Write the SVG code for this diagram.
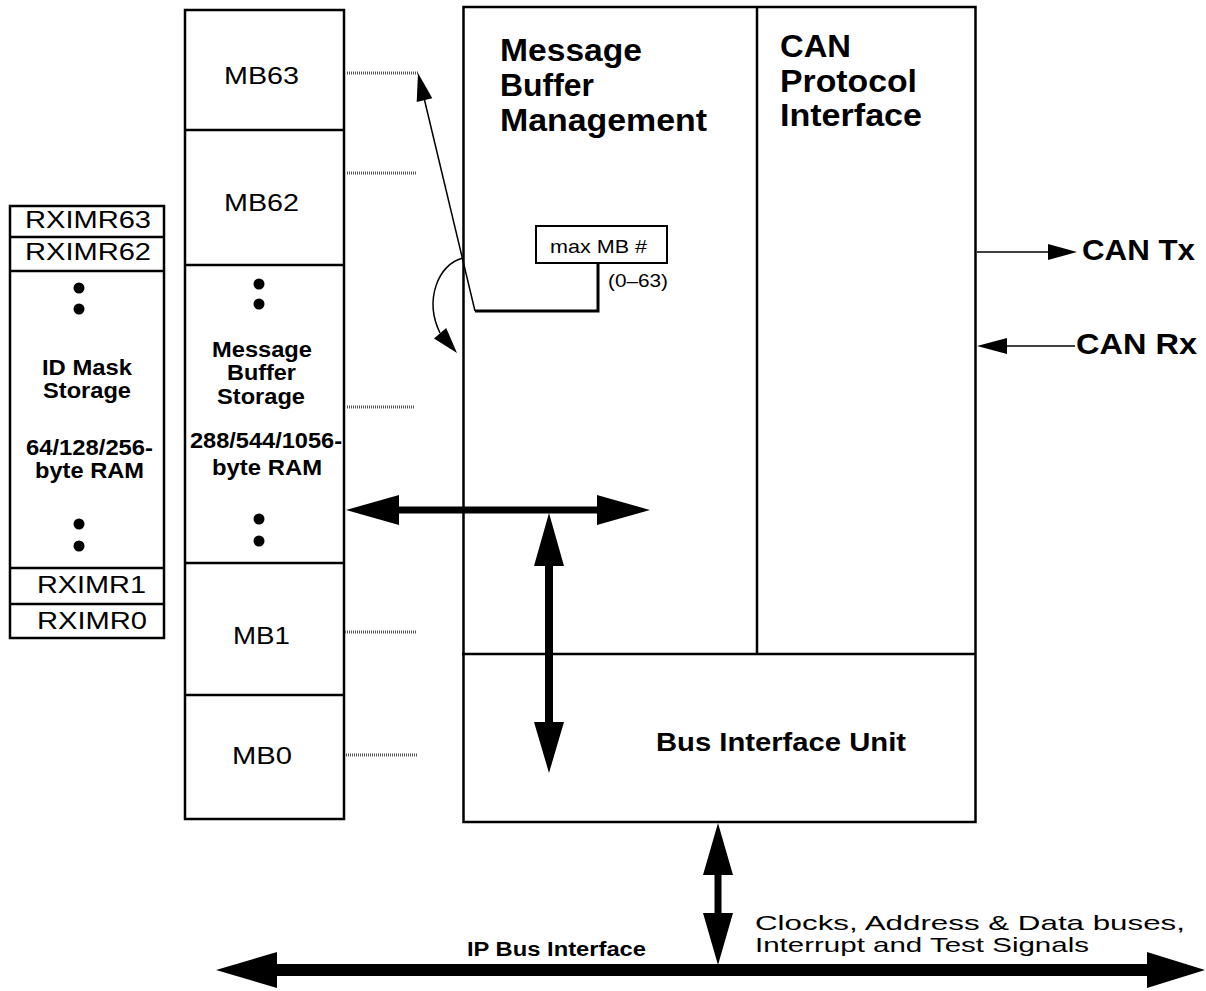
<svg xmlns="http://www.w3.org/2000/svg" width="1206" height="991" viewBox="0 0 1206 991">
<style>
.box{fill:#fff;stroke:#000;stroke-width:2.5}
.ln{stroke:#000;stroke-width:2.5;fill:none}
.thin{stroke:#000;stroke-width:1.5;fill:none}
.dot{stroke:#555;stroke-width:3;stroke-dasharray:1 1;fill:none}
.r{font-family:"Liberation Sans",Arial,sans-serif;fill:#000}
.b{font-family:"Liberation Sans",Arial,sans-serif;font-weight:bold;fill:#000}
.fill{fill:#000;stroke:none}
</style>
<rect width="1206" height="991" fill="#fff"/>

<g id="id-mask-storage">
<rect class="box" x="10" y="206" width="154" height="432"/>
<line class="ln" x1="10" y1="237" x2="164" y2="237"/>
<line class="ln" x1="10" y1="271" x2="164" y2="271"/>
<line class="ln" x1="10" y1="568" x2="164" y2="568"/>
<line class="ln" x1="10" y1="604" x2="164" y2="604"/>
<text class="r" x="25" y="228" font-size="23" textLength="126" lengthAdjust="spacingAndGlyphs">RXIMR63</text>
<text class="r" x="25" y="260" font-size="23" textLength="126" lengthAdjust="spacingAndGlyphs">RXIMR62</text>
<circle class="fill" cx="79" cy="288" r="5.5"/>
<circle class="fill" cx="79" cy="309" r="5.5"/>
<text class="b" x="42" y="375" font-size="22" textLength="90" lengthAdjust="spacingAndGlyphs">ID Mask</text>
<text class="b" x="43" y="398" font-size="22" textLength="88" lengthAdjust="spacingAndGlyphs">Storage</text>
<text class="b" x="26" y="455" font-size="22" textLength="127" lengthAdjust="spacingAndGlyphs">64/128/256-</text>
<text class="b" x="35" y="478" font-size="22" textLength="109" lengthAdjust="spacingAndGlyphs">byte RAM</text>
<circle class="fill" cx="79" cy="524" r="5.5"/>
<circle class="fill" cx="79" cy="546" r="5.5"/>
<text class="r" x="37" y="593" font-size="23" textLength="109" lengthAdjust="spacingAndGlyphs">RXIMR1</text>
<text class="r" x="37" y="629" font-size="23" textLength="110" lengthAdjust="spacingAndGlyphs">RXIMR0</text>
</g>

<g id="message-buffer-storage">
<rect class="box" x="185" y="10" width="159" height="809"/>
<line class="ln" x1="185" y1="130" x2="344" y2="130"/>
<line class="ln" x1="185" y1="265" x2="344" y2="265"/>
<line class="ln" x1="185" y1="563" x2="344" y2="563"/>
<line class="ln" x1="185" y1="695" x2="344" y2="695"/>
<text class="r" x="224" y="84" font-size="23" textLength="75" lengthAdjust="spacingAndGlyphs">MB63</text>
<text class="r" x="224" y="211" font-size="23" textLength="75" lengthAdjust="spacingAndGlyphs">MB62</text>
<circle class="fill" cx="259" cy="284" r="5.5"/>
<circle class="fill" cx="259" cy="304" r="5.5"/>
<text class="b" x="212" y="357" font-size="22" textLength="100" lengthAdjust="spacingAndGlyphs">Message</text>
<text class="b" x="227" y="380" font-size="22" textLength="69" lengthAdjust="spacingAndGlyphs">Buffer</text>
<text class="b" x="217" y="404" font-size="22" textLength="88" lengthAdjust="spacingAndGlyphs">Storage</text>
<text class="b" x="190" y="448" font-size="22" textLength="152" lengthAdjust="spacingAndGlyphs">288/544/1056-</text>
<text class="b" x="212" y="475" font-size="22" textLength="110" lengthAdjust="spacingAndGlyphs">byte RAM</text>
<circle class="fill" cx="259" cy="519" r="5.5"/>
<circle class="fill" cx="259" cy="541" r="5.5"/>
<text class="r" x="233" y="644" font-size="23" textLength="57" lengthAdjust="spacingAndGlyphs">MB1</text>
<text class="r" x="232" y="764" font-size="23" textLength="60" lengthAdjust="spacingAndGlyphs">MB0</text>
</g>

<g id="flexcan-module">
<rect class="box" x="463.5" y="7" width="512" height="815"/>
<line class="ln" x1="757" y1="7" x2="757" y2="654"/>
<line class="ln" x1="462" y1="654" x2="975" y2="654"/>
</g>

<g id="message-buffer-management">
<text class="b" x="500" y="61" font-size="31" textLength="142" lengthAdjust="spacingAndGlyphs">Message</text>
<text class="b" x="500" y="96" font-size="31" textLength="94" lengthAdjust="spacingAndGlyphs">Buffer</text>
<text class="b" x="500" y="131" font-size="31" textLength="207" lengthAdjust="spacingAndGlyphs">Management</text>
</g>

<g id="can-protocol-interface">
<text class="b" x="780" y="57" font-size="31" textLength="71" lengthAdjust="spacingAndGlyphs">CAN</text>
<text class="b" x="780" y="92" font-size="31" textLength="137" lengthAdjust="spacingAndGlyphs">Protocol</text>
<text class="b" x="780" y="126" font-size="31" textLength="142" lengthAdjust="spacingAndGlyphs">Interface</text>
</g>

<g id="bus-interface-unit">
<text class="b" x="656" y="751" font-size="26" textLength="250" lengthAdjust="spacingAndGlyphs">Bus Interface Unit</text>
</g>

<g id="max-mb">
<rect x="536" y="226" width="131" height="37" fill="#fff" stroke="#000" stroke-width="2"/>
<text class="r" x="550" y="253" font-size="19" textLength="97" lengthAdjust="spacingAndGlyphs">max MB #</text>
<text class="r" x="608" y="287" font-size="19" textLength="60" lengthAdjust="spacingAndGlyphs">(0–63)</text>
</g>

<g id="connectors">
<line class="dot" x1="347" y1="73" x2="418" y2="73"/>
<line class="dot" x1="347" y1="173" x2="416" y2="173"/>
<line class="dot" x1="347" y1="407" x2="415" y2="407"/>
<line class="dot" x1="345" y1="632" x2="416" y2="632"/>
<line class="dot" x1="346" y1="755" x2="417" y2="755"/>

<polyline points="598,263 598,311 475,311" fill="none" stroke="#000" stroke-width="3"/>
<line class="thin" x1="475" y1="311" x2="424.5" y2="100"/>
<polygon class="fill" points="418,73 432.3,98.3 416.7,102.1"/>

<path class="thin" d="M463,258 C438,264 424,300 440,333"/>
<polygon class="fill" points="457,353 446.2,328 434,338.4"/>

<polygon class="fill" points="346,510 399,495 399,506.5 597,506.5 597,495 650,510 597,525 597,513.5 399,513.5 399,525"/>
<polygon class="fill" points="549,513 564,566 553,566 553,722 564,722 549,773 534,722 545,722 545,566 534,566"/>
<polygon class="fill" points="718,823 733,875 721.5,875 721.5,913 733,913 718,965 703,913 714.5,913 714.5,875 703,875"/>
<polygon class="fill" points="216,970 277,952 277,964 1147,964 1147,952 1205,970 1147,988 1147,976 277,976 277,988"/>

<line class="thin" x1="977" y1="252" x2="1050" y2="252"/>
<polygon class="fill" points="1077,252 1048,244 1048,260"/>
<line class="thin" x1="1005" y1="346" x2="1075" y2="346"/>
<polygon class="fill" points="977,346 1007,338 1007,354"/>
</g>

<g id="labels">
<text class="b" x="1082" y="260" font-size="30" textLength="113" lengthAdjust="spacingAndGlyphs">CAN Tx</text>
<text class="b" x="1076" y="354" font-size="30" textLength="121" lengthAdjust="spacingAndGlyphs">CAN Rx</text>
<text class="r" x="755" y="930" font-size="21" textLength="430" lengthAdjust="spacingAndGlyphs">Clocks, Address &amp; Data buses,</text>
<text class="r" x="755" y="952" font-size="21" textLength="334" lengthAdjust="spacingAndGlyphs">Interrupt and Test Signals</text>
<text class="b" x="467" y="956" font-size="20" textLength="179" lengthAdjust="spacingAndGlyphs">IP Bus Interface</text>
</g>
</svg>
